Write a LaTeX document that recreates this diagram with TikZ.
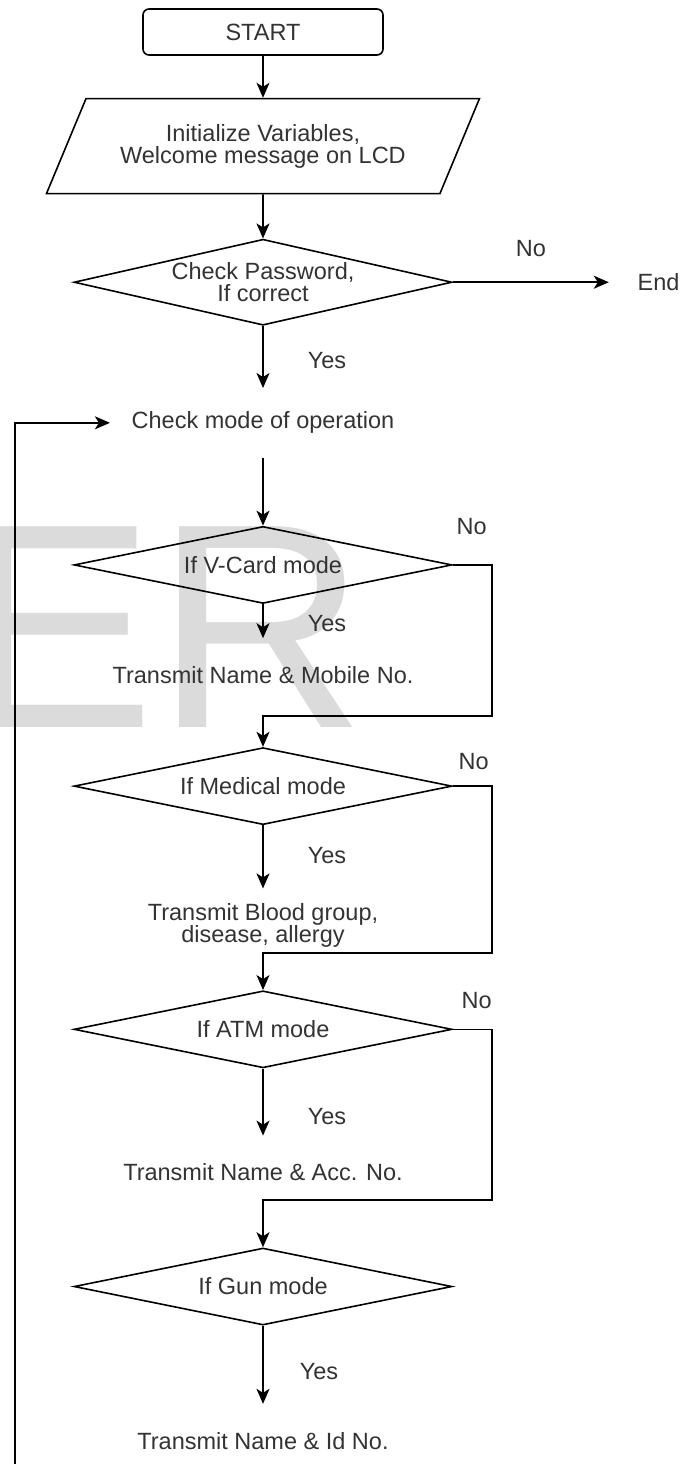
\documentclass[tikz,border=0pt]{standalone}
\usepackage{fontspec}
\setmainfont{Liberation Sans}
\usepackage{tikz}
\usetikzlibrary{arrows.meta, positioning, shapes.geometric}

\begin{document}
\begin{tikzpicture}[
  x=1pt, y=1pt, line width=1.6pt,
  every node/.style={font=\fontsize{23.5}{22}\selectfont, text=black!80},
  terminal/.style={draw, rounded corners=6pt, minimum width=240pt,
                   minimum height=46pt, inner sep=0pt},
  io/.style={trapezium, draw, trapezium left angle=48,
             trapezium right angle=132, trapezium stretches body,
             minimum width=433pt, minimum height=95pt, align=center,
             inner sep=0pt},
  decision/.style={diamond, draw, aspect=4.4, minimum width=378pt,
                   minimum height=77pt, align=center, inner sep=0pt},
  action/.style={minimum height=72pt, align=center, inner sep=0pt},
  lbl/.style={inner sep=0pt},
  wmark/.style={font=\fontsize{292}{300}\selectfont, text=black!14,
                inner sep=0pt},
  arrow/.style={-{Stealth[length=15pt, width=13pt, inset=4pt]}},
]
\useasboundingbox (0,0) rectangle (691,-1464);

% watermark
\node[wmark, anchor=base west] (wm) at (-40,-727) {ER};

\node[terminal] (start) at (263,-32) {START};
\node[io,       below=42pt of start]  (init) {Initialize Variables,\\Welcome message on LCD};
\node[decision, below=44pt of init, minimum height=86pt] (d1) {Check Password,\\If correct};
\node[lbl,      right=156pt of d1, inner xsep=28pt] (end) {End};
\node[action,   below=62pt of d1, minimum height=68pt, inner xsep=21pt] (chkmode) {Check mode of operation};
\node[decision, below=68pt of chkmode] (d2) {If V-Card mode};
\node[action,   below=34pt of d2] (t1) {Transmit Name \& Mobile No.};
\node[decision, below=35pt of t1]  (d3) {If Medical mode};
\node[action,   below=63pt of d3] (t2) {Transmit Blood group,\\disease, allergy};
\node[decision, below=28pt of t2]  (d4) {If ATM mode};
\node[action,   below=67pt of d4] (t3) {Transmit Name \& Acc. No.};
\node[decision, below=38pt of t3]  (d5) {If Gun mode};
\node[action,   below=78pt of d5] (t4) {Transmit Name \& Id No.};

\coordinate[above=31pt of d3.north] (j1);
\coordinate[above=37pt of d4.north] (j2);
\coordinate[above=47pt of d5.north] (j3);
\coordinate (loopbot) at (15,-1464);
\coordinate (bot) at (t4.south |- loopbot);

\draw[arrow] (start) -- (init);
\draw[arrow] (init) -- (d1);
\draw[arrow] (d1.east) -- node[lbl, above=25pt]{No} (end.west);
\draw[arrow] (d1.south) -- node[lbl, right=44pt, pos=0.56]{Yes} (chkmode.north);
\draw[arrow] (loopbot) |- (chkmode.west);
\draw[arrow] (chkmode.south) -- (d2.north);

\draw[arrow] (d2.south) -- node[lbl, right=44pt, pos=0.56]{Yes} (t1.north);
\draw[arrow] (d2.east) -- node[lbl, pos=0, above right=29pt and 3pt]{No} ++(39pt,0) |- (j1) -- (d3.north);

\draw[arrow] (d3.south) -- node[lbl, right=44pt, pos=0.48]{Yes} (t2.north);
\draw[arrow] (d3.east) -- node[lbl, pos=0, above right=16pt and 5pt]{No} ++(39pt,0) |- (j2) -- (d4.north);

\draw[arrow] (d4.south) -- node[lbl, right=44pt, pos=0.72]{Yes} (t3.north);
\draw[arrow] (d4.east) -- node[lbl, pos=0, above right=20pt and 8pt]{No} ++(39pt,0) |- (j3) -- (d5.north);

\draw[arrow] (d5.south) -- node[lbl, right=36pt, pos=0.59]{Yes} (t4.north);
\draw (t4.south) -- (bot);
\end{tikzpicture}
\end{document}
